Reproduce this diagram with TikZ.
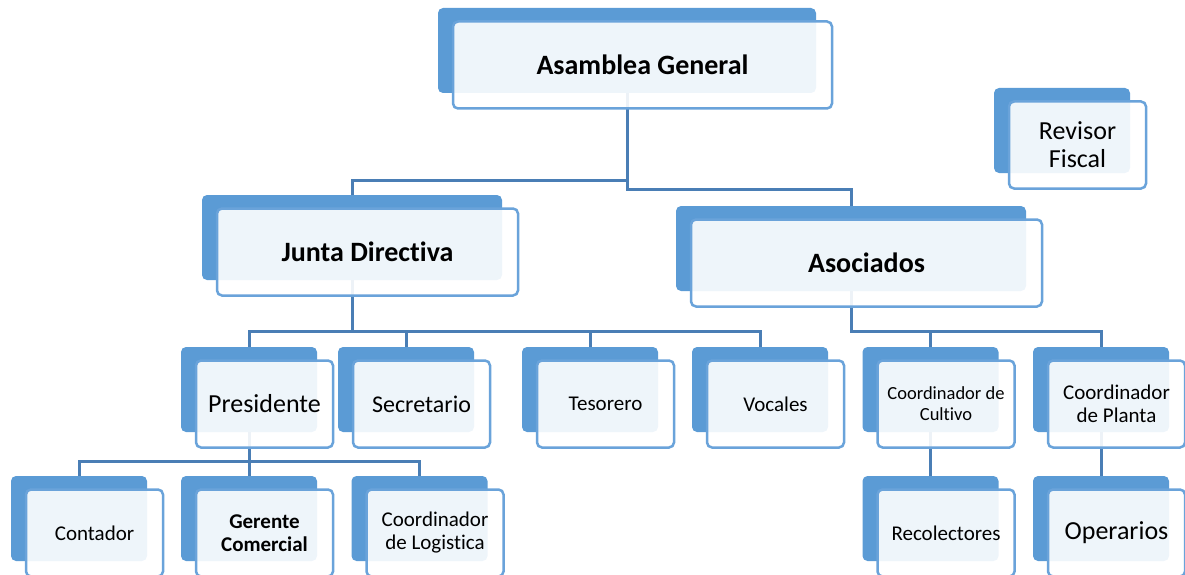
\documentclass[tikz,border=0pt]{standalone}
\usepackage{fontspec}
\setmainfont{Carlito}[Ligatures=NoCommon]
\usetikzlibrary{calc}
\definecolor{smblue}{HTML}{5B9BD5}
\definecolor{smline}{HTML}{6AA3DA}
\definecolor{smconn}{HTML}{4A7EB5}

\begin{document}
\begin{tikzpicture}[x=1pt, y=-1pt,
    back/.style={rectangle, rounded corners=5pt, fill=smblue, minimum height=85pt, inner sep=0pt},
    front/.style={rectangle, rounded corners=5pt, draw=smline, line width=2.5pt, fill=white, fill opacity=0.9, text opacity=1, minimum height=87pt, inner sep=0pt, align=center},
    conn/.style={draw=smconn, line width=3pt},
    txtbig/.style={font=\fontsize{28}{32}\selectfont\bfseries},
    txtmid/.style={font=\fontsize{26}{28}\selectfont},
    txtsmall/.style={font=\fontsize{21}{23}\selectfont}]

    \useasboundingbox (0,0) rectangle (1185,575);
    \clip (0,0) rectangle (1185,575);

    % Back boxes
    \node[back, minimum width=378pt] (ag) at (627,50.5) {};
    \node[back, minimum width=136pt] (rev) at (1062,130.5) {};
    \node[back, minimum width=300pt] (junta) at (352,237.5) {};
    \node[back, minimum width=350pt] (asoc) at (851,248.5) {};
    \node[back, minimum width=136pt] (pres) at (249,389.5) {};
    \node[back, minimum width=136pt] (secr) at (406,389.5) {};
    \node[back, minimum width=136pt] (teso) at (590,389.5) {};
    \node[back, minimum width=136pt] (voc) at (760,389.5) {};
    \node[back, minimum width=136pt] (cult) at (930.5,389.5) {};
    \node[back, minimum width=136pt] (plan) at (1101,389.5) {};
    \node[back, minimum width=136pt] (cont) at (79,518.5) {};
    \node[back, minimum width=136pt] (ger) at (249,518.5) {};
    \node[back, minimum width=136pt] (logi) at (419.5,518.5) {};
    \node[back, minimum width=136pt] (reco) at (930.5,518.5) {};
    \node[back, minimum width=136pt] (oper) at (1101,518.5) {};

    % Connectors
    \draw[conn] (junta.north) -- ++(0,-14) -| (ag.south);
    \draw[conn] (asoc.north) -- ++(0,-16) -| (ag.south);
    \draw[conn] (pres.north) -- ++(0,-15) -| (junta.south);
    \draw[conn] (secr.north) -- ++(0,-15) -| (junta.south);
    \draw[conn] (teso.north) -- ++(0,-15) -| (junta.south);
    \draw[conn] (voc.north) -- ++(0,-15) -| (junta.south);
    \draw[conn] (cult.north) -- ++(0,-15) -| (asoc.south);
    \draw[conn] (plan.north) -- ++(0,-15) -| (asoc.south);
    \draw[conn] (cont.north) -- ++(0,-14) -| (pres.south);
    \draw[conn] (ger.north) -- ++(0,-14) -| (pres.south);
    \draw[conn] (logi.north) -- ++(0,-14) -| (pres.south);
    \draw[conn] (cult.south) -- (reco.north);
    \draw[conn] (plan.south) -- (oper.north);

    % Front boxes with the texts
    \node[front, txtbig, minimum width=379pt] (agf) at ($(ag)+(15.5,14.5)$) {Asamblea General};
    \node[front, txtmid, minimum width=137pt] (revf) at ($(rev)+(15.5,14.5)$) {Revisor\\Fiscal};
    \node[front, txtbig, minimum width=301pt] (juntaf) at ($(junta)+(15.5,14.5)$) {Junta Directiva};
    \node[front, txtbig, minimum width=351pt] (asocf) at ($(asoc)+(15.5,14.5)$) {Asociados};
    \node[front, txtmid, minimum width=137pt] (presf) at ($(pres)+(15.5,14.5)$) {Presidente};
    \node[front, font=\fontsize{24}{26}\selectfont, minimum width=137pt] (secrf) at ($(secr)+(15.5,14.5)$) {Secretario};
    \node[front, txtsmall, minimum width=137pt] (tesof) at ($(teso)+(15.5,14.5)$) {Tesorero};
    \node[front, txtsmall, minimum width=137pt] (vocf) at ($(voc)+(15.5,14.5)$) {Vocales};
    \node[front, font=\fontsize{18.5}{21}\selectfont, minimum width=137pt] (cultf) at ($(cult)+(15.5,14.5)$) {Coordinador de\\Cultivo};
    \node[front, txtsmall, minimum width=137pt] (planf) at ($(plan)+(15.5,14.5)$) {Coordinador\\de Planta};
    \node[front, txtsmall, minimum width=137pt] (contf) at ($(cont)+(15.5,14.5)$) {Contador};
    \node[front, txtsmall, minimum width=137pt] (gerf) at ($(ger)+(15.5,14.5)$) {\bfseries Gerente\\\bfseries Comercial};
    \node[front, txtsmall, minimum width=137pt] (logif) at ($(logi)+(15.5,14.5)$) {Coordinador\\de Logistica};
    \node[front, txtsmall, minimum width=137pt] (recof) at ($(reco)+(15.5,14.5)$) {Recolectores};
    \node[front, txtmid, minimum width=137pt] (operf) at ($(oper)+(15.5,14.5)$) {Operarios};

\end{tikzpicture}
\end{document}
